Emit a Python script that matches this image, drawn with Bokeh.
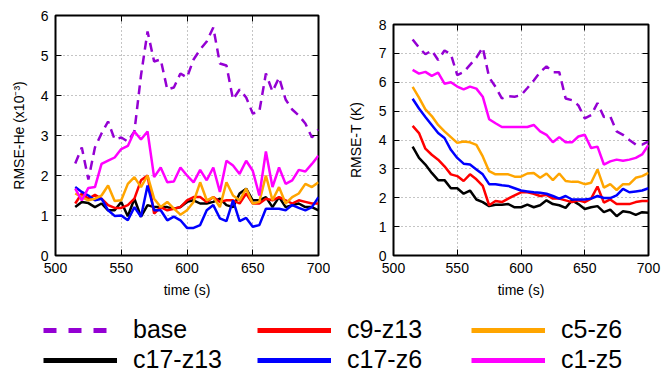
from bokeh.plotting import figure
from bokeh.models import (Range1d, LinearAxis, FixedTicker, Legend, LegendItem,
                          CustomLabelingPolicy)
from bokeh.layouts import row, column
from bokeh.embed import file_html
from bokeh.resources import INLINE

# ---------------- data ----------------
time_s = [515, 520, 525, 530, 535, 540, 545, 550, 555, 560,
          565, 570, 575, 580, 585, 590, 595, 600, 605, 610,
          615, 620, 625, 630, 635, 640, 645, 650, 655, 660,
          665, 670, 675, 680, 685, 690, 695, 700]

series_names = ["base", "c17-z13", "c9-z13", "c17-z6", "c5-z6", "c1-z5"]
legend_row1 = ["base", "c9-z13", "c5-z6"]
legend_row2 = ["c17-z13", "c17-z6", "c1-z5"]

# RMSE-He (x10^-3)
he_base = [2.3, 2.7, 1.9, 2.7, 3.05, 3.35, 2.9, 2.95, 2.85, 3.1,
           4.5, 5.6, 4.85, 4.9, 4.15, 4.2, 4.55, 4.45, 4.9, 5.15,
           5.35, 5.7, 4.8, 4.75, 3.9, 4.15, 3.95, 3.55, 3.6, 4.55,
           4.1, 4.45, 3.9, 3.65, 3.5, 3.3, 2.95, 3.15]
he_c17z13 = [1.21, 1.34, 1.31, 1.21, 1.3, 1.13, 1.13, 1.34, 0.98, 1.42,
             0.97, 1.26, 1.21, 1.21, 1.21, 1.17, 1.21, 1.34, 1.38, 1.3,
             1.3, 1.34, 1.42, 1.26, 1.21, 1.55, 1.67, 1.38, 1.38, 1.46,
             1.21, 1.46, 1.21, 1.26, 1.3, 1.21, 1.21, 1.13]
he_c9z13 = [1.3, 1.55, 1.42, 1.52, 1.42, 1.26, 1.19, 1.19, 1.26, 1.42,
            1.88, 2.0, 1.05, 1.21, 1.13, 1.17, 1.21, 1.38, 1.46, 1.46,
            1.34, 1.46, 1.34, 1.38, 1.38, 1.3, 1.55, 1.3, 1.3, 1.42,
            1.38, 1.46, 1.38, 1.3, 1.38, 1.34, 1.3, 1.3]
he_c17z6 = [1.71, 1.59, 1.5, 1.38, 1.42, 1.13, 0.99, 1.0, 0.88, 1.21,
            0.97, 1.75, 1.13, 1.13, 0.88, 0.97, 0.88, 0.69, 0.69, 0.76,
            1.13, 1.26, 0.93, 0.86, 1.38, 0.86, 0.94, 0.72, 0.76, 1.17,
            1.17, 1.17, 1.13, 1.26, 1.19, 1.13, 1.21, 1.46]
he_c5z6 = [1.55, 1.46, 1.38, 1.42, 1.5, 1.75, 1.36, 1.38, 1.79, 1.96,
           1.71, 2.0, 1.42, 1.21, 1.34, 1.17, 1.02, 1.13, 1.34, 1.83,
           1.38, 1.46, 1.21, 1.83, 1.5, 1.38, 1.67, 1.3, 1.34, 2.0,
           1.38, 1.71, 1.3, 1.46, 1.55, 1.79, 1.71, 1.83]
he_c1z5 = [1.67, 1.38, 1.69, 1.71, 2.29, 2.37, 2.45, 2.66, 2.74, 3.1,
           2.9, 3.1, 1.96, 2.2, 1.83, 1.85, 2.2, 2.0, 1.83, 2.14,
           1.88, 2.2, 1.59, 2.37, 2.25, 2.04, 2.37, 2.12, 1.5, 2.6,
           1.71, 2.2, 1.79, 1.88, 2.14, 2.1, 2.29, 2.5]

# RMSE-T (K)
t_base = [7.48, 7.2, 6.97, 7.1, 6.77, 7.1, 6.97, 6.25, 6.35, 6.6,
          6.85, 7.2, 6.17, 5.84, 5.44, 5.52, 5.5, 5.55, 5.8, 6.06,
          6.35, 6.55, 6.35, 6.35, 5.44, 5.38, 5.2, 4.75, 4.86, 5.28,
          4.8, 4.82, 4.3, 4.18, 4.0, 3.84, 3.84, 3.95]
t_c17z13 = [3.77, 3.38, 3.15, 2.86, 2.61, 2.61, 2.33, 2.33, 2.14, 2.25,
            1.94, 1.85, 1.71, 1.76, 1.76, 1.78, 1.67, 1.67, 1.76, 1.67,
            1.74, 1.91, 1.78, 1.74, 1.65, 1.91, 1.78, 1.61, 1.67, 1.71,
            1.5, 1.59, 1.36, 1.53, 1.5, 1.41, 1.5, 1.48]
t_c9z13 = [4.49, 4.24, 3.7, 3.49, 3.32, 3.09, 2.81, 2.75, 2.58, 2.81,
           2.64, 2.41, 1.74, 1.89, 1.85, 1.97, 2.08, 2.19, 2.19, 2.14,
           2.06, 2.1, 1.97, 1.97, 1.91, 1.85, 1.91, 1.85, 1.97, 2.39,
           1.83, 1.94, 1.78, 1.78, 1.78, 1.85, 1.89, 1.89]
t_c17z6 = [5.43, 5.09, 4.8, 4.52, 4.24, 4.07, 3.66, 3.38, 3.18, 3.15,
           2.98, 2.81, 2.47, 2.47, 2.43, 2.41, 2.33, 2.25, 2.22, 2.19,
           2.17, 2.14, 2.06, 1.97, 2.06, 1.94, 1.94, 1.94, 1.97, 2.06,
           1.99, 1.99, 2.08, 2.31, 2.19, 2.22, 2.25, 2.33]
t_c5z6 = [5.84, 5.47, 5.06, 4.83, 4.52, 4.3, 4.1, 3.9, 3.95, 3.92,
          3.83, 3.43, 2.92, 2.81, 2.81, 2.81, 2.73, 2.73, 2.84, 2.86,
          2.69, 2.84, 2.61, 2.84, 2.58, 2.55, 2.55, 2.47, 2.52, 2.98,
          2.35, 2.47, 2.27, 2.47, 2.47, 2.69, 2.75, 2.86]
t_c1z5 = [6.43, 6.3, 6.36, 6.22, 6.33, 5.95, 6.0, 5.85, 5.75, 5.85,
          5.78, 5.5, 4.72, 4.58, 4.45, 4.45, 4.45, 4.45, 4.45, 4.52,
          4.3, 4.18, 3.92, 4.1, 3.92, 3.92, 4.12, 4.18, 3.72, 3.77,
          3.15, 3.26, 3.32, 3.28, 3.32, 3.38, 3.5, 3.83]

x_ticks = [500, 550, 600, 650, 700]
he_ticks = [0, 1, 2, 3, 4, 5, 6]
t_ticks = [0, 1, 2, 3, 4, 5, 6, 7, 8]

he_data = [he_base, he_c17z13, he_c9z13, he_c17z6, he_c5z6, he_c1z5]
t_data = [t_base, t_c17z13, t_c9z13, t_c17z6, t_c5z6, t_c1z5]

# ---------------- styles ----------------
FONT = "Liberation Sans"
colors = {"base": "#9400D3", "c17-z13": "#000000", "c9-z13": "#FF0000",
          "c17-z6": "#0000FF", "c5-z6": "#FFA500", "c1-z5": "#FF00FF"}

NO_LABELS = CustomLabelingPolicy(code="""
for (let i = 0; i < indices.size; i++) { indices.unset(i) }
return indices
""")


def style_axis(ax, show_labels=True):
    ax.axis_line_color = None
    ax.major_tick_in = 6
    ax.major_tick_out = 0
    ax.major_tick_line_color = "black"
    ax.major_tick_line_width = 1
    ax.minor_tick_line_color = None
    if show_labels:
        ax.major_label_text_font = FONT
        ax.major_label_text_font_size = "14px"
        ax.major_label_text_color = "black"
        ax.major_label_standoff = 7
        ax.axis_label_text_font = FONT
        ax.axis_label_text_font_size = "14px"
        ax.axis_label_text_font_style = "normal"
        ax.axis_label_text_color = "black"
    else:
        ax.major_label_policy = NO_LABELS
        ax.major_label_standoff = 0


def make_panel(width, height, ymax, yticks, ylabel, data, mbl, mbr, mbt, mbb, ylab_standoff):
    p = figure(width=width, height=height, x_range=Range1d(500, 700),
               y_range=Range1d(0, ymax), output_backend="svg",
               toolbar_location=None, min_border_left=mbl,
               min_border_right=mbr, min_border_top=mbt, min_border_bottom=mbb,
               frame_align=False)
    p.background_fill_color = "white"
    p.border_fill_color = "white"
    p.outline_line_color = "black"
    p.outline_line_width = 2
    p.xaxis.ticker = FixedTicker(ticks=x_ticks)
    p.yaxis.ticker = FixedTicker(ticks=yticks)
    p.xaxis.axis_label = "time (s)"
    p.yaxis.axis_label = ylabel
    for ax in p.xaxis + p.yaxis:
        style_axis(ax)
    p.xaxis.axis_label_standoff = 6
    p.yaxis.axis_label_standoff = ylab_standoff
    ra = LinearAxis(ticker=FixedTicker(ticks=yticks))
    style_axis(ra, show_labels=False)
    p.add_layout(ra, "right")
    ta = LinearAxis(ticker=FixedTicker(ticks=x_ticks))
    style_axis(ta, show_labels=False)
    p.add_layout(ta, "above")
    for g in (p.xgrid, p.ygrid):
        g.grid_line_color = "#8a8a8a"
        g.grid_line_dash = "1 3"
        g.grid_line_width = 1
    for name, vals in zip(series_names, data):
        if name == "base":
            p.line(time_s, vals, line_color=colors[name], line_width=2.5,
                   line_dash="9 6")
        else:
            p.line(time_s, vals, line_color=colors[name], line_width=2.5)
    return p


p1 = make_panel(330, 300, 6, he_ticks, "RMSE-He (x10\u207b\u00b3)", he_data,
                55, 12, 15, 43, 11)
p2 = make_panel(331, 300, 8, t_ticks, "RMSE-T (K)", t_data,
                63, 13, 24, 43, 12)

# ---------------- legend ----------------
# legend-only figure: the sample lines use the real series but lie outside its view
pl = figure(width=661, height=74, x_range=Range1d(0, 1), y_range=Range1d(0, 1),
            x_axis_type=None, y_axis_type=None, output_backend="svg",
            toolbar_location=None, min_border=0, frame_align=False)
pl.outline_line_color = None
pl.background_fill_color = "white"
pl.border_fill_color = "white"
series_map = dict(zip(series_names, he_data))


def legend_row(names, y):
    items = []
    for name in names:
        if name == "base":
            r = pl.line(time_s, series_map[name], line_color=colors[name],
                        line_width=5, line_dash="13 12")
        else:
            r = pl.line(time_s, series_map[name], line_color=colors[name],
                        line_width=5)
        items.append(LegendItem(label=name, renderers=[r]))
    lg = Legend(items=items, location=(43, y), orientation="horizontal",
                glyph_width=74, glyph_height=24, label_height=24,
                label_width=124, label_standoff=16, spacing=0, padding=0,
                margin=0, border_line_color=None, background_fill_alpha=0,
                label_text_font=FONT, label_text_font_size="25px",
                label_text_color="black")
    pl.add_layout(lg, "center")


legend_row(legend_row1, 30)
legend_row(legend_row2, 0)

layout = column(row(p1, p2), pl)

open("out.html", "w").write(file_html(layout, INLINE))
